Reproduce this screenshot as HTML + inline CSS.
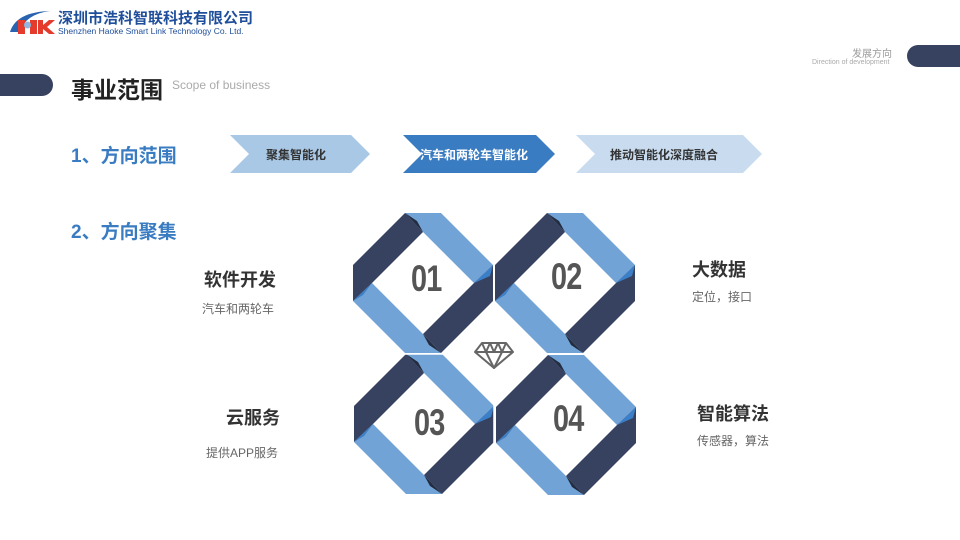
<!DOCTYPE html>
<html><head><meta charset="utf-8"><style>
body{margin:0;width:960px;height:540px;background:#fff;overflow:hidden;position:relative;font-family:"Liberation Sans","Noto Sans CJK SC",sans-serif}
.t{position:absolute;white-space:nowrap}
.n{font-size:37px;font-weight:bold;color:#555;transform:scaleX(0.78);transform-origin:left top;letter-spacing:-1px}
</style></head><body>
<svg width="960" height="540" style="position:absolute;left:0;top:0">
<path d="M10 32 Q16 12 50 11 Q26 14 19 32 Z" fill="#2a63b0"/>
<rect x="18" y="20" width="7" height="14" fill="#e53b2c"/>
<rect x="30" y="20" width="7" height="14" fill="#e53b2c"/>
<circle cx="27.5" cy="25" r="3.5" fill="#8fb7e0"/>
<path d="M38 20 h5 v5 l6 -5 h6 l-8 7 l8 7 h-6 l-6 -5 v5 h-5z" fill="#e53b2c"/>
<rect x="-20" y="74" width="73" height="22" rx="11" fill="#364260"/>
<rect x="907" y="45" width="80" height="22" rx="11" fill="#364260"/>
<polygon points="230,135 351,135 370,154 351,173 230,173 249,154" fill="#a9c8e6"/>
<polygon points="403,135 536,135 555,154 536,173 403,173 422,154" fill="#3a7cc2"/>
<polygon points="576,135 743,135 762,154 743,173 576,173 595,154" fill="#c8dbef"/>
<defs>
<g id="ring">
<polygon points="-18,-70 18,-70 70,-18 51,0 0,-51" fill="#72a3d6"/>
<polygon points="70,-18 70,18 18,70 0,51 51,0" fill="#364260"/>
<polygon points="18,70 -18,70 -70,18 -51,0 0,51" fill="#72a3d6"/>
<polygon points="-70,18 -70,-18 -18,-70 0,-51 -51,0" fill="#364260"/>
<polygon points="51,0 70,-18 67,-7" fill="#3b7fc8"/>
<polygon points="-51,0 -70,18 -60,12" fill="#3b7fc8"/>
<polygon points="0,-51 -18,-70 -6,-62" fill="#232c40"/>
<polygon points="0,51 18,70 6,62" fill="#232c40"/>
</g>
</defs>
<use href="#ring" x="423" y="283"/>
<use href="#ring" x="565" y="283"/>
<use href="#ring" x="424" y="424"/>
<use href="#ring" x="566" y="425"/>
<line x1="494" y1="210" x2="494" y2="500" stroke="#fff" stroke-width="1.5"/>
<line x1="350" y1="354" x2="640" y2="354" stroke="#fff" stroke-width="1.5"/>
<rect x="470" y="335" width="48" height="40" fill="#fff"/>
<g fill="none" stroke="#666" stroke-width="2" stroke-linejoin="round">
<polygon points="482,343 506,343 513,352 494,368 475,352"/>
<line x1="475" y1="352" x2="513" y2="352"/>
<polyline points="482,343 486,352 494,368 502,352 506,343"/>
<polyline points="486,352 490,343 494,352 498,343 502,352"/>
</g>
</svg>
<div class="t" style="left:58px;top:7px;font-size:15px;font-weight:bold;color:#1f4e9a">深圳市浩科智联科技有限公司</div>
<div class="t" style="left:58px;top:26px;font-size:8.5px;color:#1f4e9a">Shenzhen Haoke Smart Link Technology Co. Ltd.</div>
<div class="t" style="left:71px;top:71px;font-size:23px;font-weight:bold;color:#222">事业范围</div>
<div class="t" style="left:172px;top:78px;font-size:12px;color:#aaa">Scope of business</div>
<div class="t" style="left:852px;top:45px;font-size:10px;color:#999">发展方向</div>
<div class="t" style="left:812px;top:59px;font-size:7px;color:#aaa">Direction of development</div>
<div class="t" style="left:71px;top:141px;font-size:19px;font-weight:bold;color:#3a7cc2">1、方向范围</div>
<div class="t" style="left:71px;top:217px;font-size:19px;font-weight:bold;color:#3a7cc2">2、方向聚集</div>
<div class="t" style="left:266px;top:146px;font-size:12px;font-weight:bold;color:#333">聚集智能化</div>
<div class="t" style="left:420px;top:146px;font-size:12px;font-weight:bold;color:#fff">汽车和两轮车智能化</div>
<div class="t" style="left:610px;top:146px;font-size:12px;font-weight:bold;color:#333">推动智能化深度融合</div>
<div class="t" style="left:204px;top:266px;font-size:18px;font-weight:bold;color:#333">软件开发</div>
<div class="t" style="left:202px;top:300px;font-size:12px;color:#666">汽车和两轮车</div>
<div class="t" style="left:226px;top:404px;font-size:18px;font-weight:bold;color:#333">云服务</div>
<div class="t" style="left:206px;top:444px;font-size:12px;color:#666">提供APP服务</div>
<div class="t" style="left:692px;top:256px;font-size:18px;font-weight:bold;color:#333">大数据</div>
<div class="t" style="left:692px;top:288px;font-size:12px;color:#666">定位，接口</div>
<div class="t" style="left:697px;top:400px;font-size:18px;font-weight:bold;color:#333">智能算法</div>
<div class="t" style="left:697px;top:432px;font-size:12px;color:#666">传感器，算法</div>
<div class="t n" style="left:411px;top:258px">01</div>
<div class="t n" style="left:551px;top:256px">02</div>
<div class="t n" style="left:414px;top:402px">03</div>
<div class="t n" style="left:553px;top:398px">04</div>
</body></html>
